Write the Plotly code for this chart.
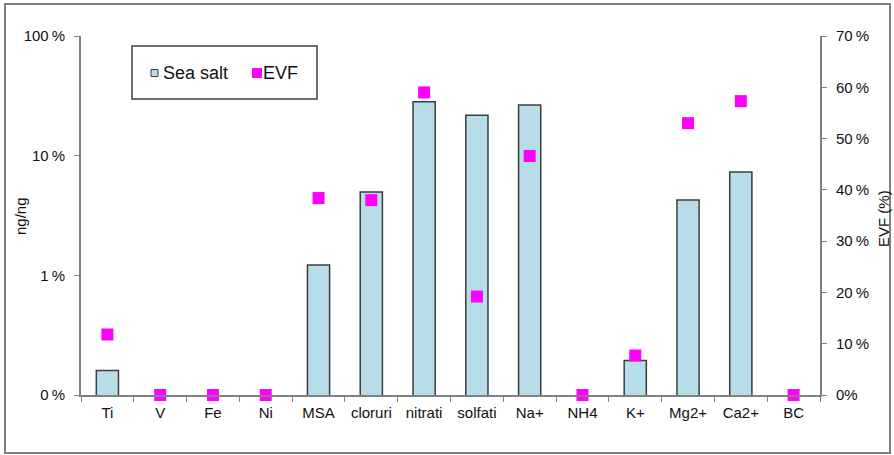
import plotly.graph_objects as go

# Species and their sea-salt fraction (ng/ng) with EVF (%)
species = ["Ti", "V", "Fe", "Ni", "MSA", "cloruri", "nitrati", "solfati",
           "Na+", "NH4", "K+", "Mg2+", "Ca2+", "BC"]
sea_salt = [0.0016, None, None, None, 0.0122, 0.0497, 0.282, 0.218,
            0.265, None, 0.00194, 0.0426, 0.073, None]
evf = [11.8, 0, 0, 0, 38.4, 38.0, 59.0, 19.2, 46.6, 0, 7.7, 53.0, 57.3, 0]

left_tickvals = [0.001, 0.01, 0.1, 1]
left_ticktext = ["0\u2009%", "1\u2009%", "10\u2009%", "100\u2009%"]
right_tickvals = [0, 10, 20, 30, 40, 50, 60, 70]
right_ticktext = ["0%"] + [f"{v}\u2009%" for v in right_tickvals[1:]]

FONT = "Liberation Sans, Arial, sans-serif"
font = dict(family=FONT, size=15, color="#111111")
axis_color = "#808080"
bar_fill = "#B7DDE8"
bar_edge = "#3c3c3c"
evf_color = "#FF00FF"

fig = go.Figure()
fig.add_trace(go.Bar(
    x=species, y=sea_salt, name="Sea salt",
    marker=dict(color=bar_fill, line=dict(color=bar_edge, width=1.5)),
    width=0.42, yaxis="y", showlegend=False,
))
fig.add_trace(go.Scatter(
    x=species, y=evf, name="EVF", mode="markers",
    marker=dict(symbol="square", size=12, color=evf_color),
    yaxis="y2", cliponaxis=False, showlegend=False,
))

fig.update_layout(
    width=894, height=455,
    margin=dict(l=81, r=74, t=36, b=60),
    paper_bgcolor="white", plot_bgcolor="white",
    font=font,
    xaxis=dict(
        type="category", showline=True, linecolor=axis_color, linewidth=2,
        ticks="outside", tickson="boundaries", ticklen=5, tickcolor=axis_color,
        showgrid=False, range=[-0.5, 13.5], ticklabelstandoff=3,
        automargin=False,
    ),
    yaxis=dict(
        type="log", range=[-3, 0], tickvals=left_tickvals, ticktext=left_ticktext,
        showline=True, linecolor=axis_color, linewidth=2, ticks="outside",
        ticklen=5, tickcolor=axis_color, showgrid=False, zeroline=False,
        ticklabelstandoff=6, automargin=False,
    ),
    yaxis2=dict(
        overlaying="y", side="right", range=[0, 70],
        tickvals=right_tickvals, ticktext=right_ticktext,
        showline=True, linecolor=axis_color, linewidth=2, ticks="outside",
        ticklen=5, tickcolor=axis_color, showgrid=False, zeroline=False,
        ticklabelstandoff=6, automargin=False,
    ),
)


def px_x(p):
    return (p - 81) / 739


def px_y(p):
    return (395 - p) / 359


# Axis titles
fig.add_annotation(
    text="ng/ng", xref="paper", yref="paper", x=px_x(20), y=px_y(216),
    xanchor="center", yanchor="middle", textangle=-90, showarrow=False,
    font=dict(family=FONT, size=15, color="#111111"),
)
fig.add_annotation(
    text="EVF (%)", xref="paper", yref="paper", x=px_x(883), y=px_y(219),
    xanchor="center", yanchor="middle", textangle=-90, showarrow=False,
    font=dict(family=FONT, size=15, color="#111111"),
)

# Outer frame around the whole chart
fig.add_shape(
    type="rect", xref="paper", yref="paper",
    x0=px_x(5), x1=px_x(890), y0=px_y(453), y1=px_y(4),
    line=dict(color="#808080", width=2), fillcolor="rgba(0,0,0,0)", layer="below",
)

# Legend box with its two entries
fig.add_shape(
    type="rect", xref="paper", yref="paper",
    x0=px_x(132), x1=px_x(317), y0=px_y(99), y1=px_y(46),
    line=dict(color="#404040", width=1.5), fillcolor="white", layer="above",
)
fig.add_shape(
    type="rect", xref="paper", yref="paper",
    x0=px_x(151), x1=px_x(158), y0=px_y(76.5), y1=px_y(69.5),
    line=dict(color=bar_edge, width=1), fillcolor=bar_fill, layer="above",
)
fig.add_shape(
    type="rect", xref="paper", yref="paper",
    x0=px_x(252), x1=px_x(262), y0=px_y(78), y1=px_y(68),
    line=dict(color=evf_color, width=0), fillcolor=evf_color, layer="above",
)
for label, x0 in (("Sea salt", 161), ("EVF", 261)):
    fig.add_annotation(
        text=label, xref="paper", yref="paper", x=px_x(x0), y=px_y(73),
        xanchor="left", yanchor="middle", showarrow=False,
        font=dict(family=FONT, size=18, color="#111111"),
    )

fig.write_html("out.html")
